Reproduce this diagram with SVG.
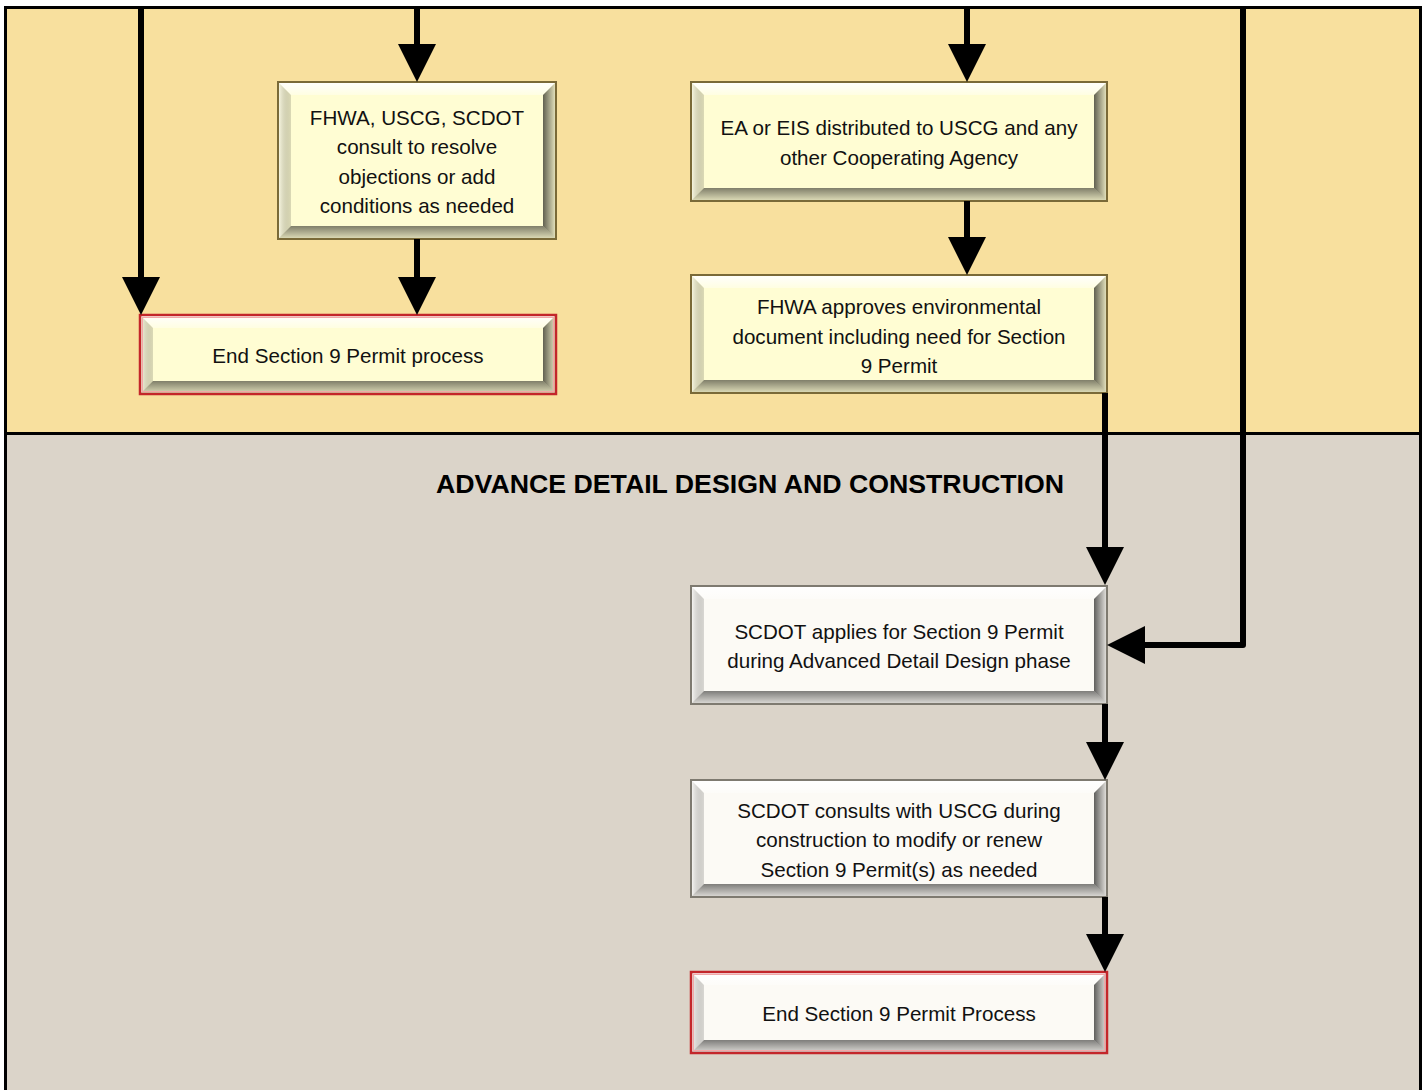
<svg xmlns="http://www.w3.org/2000/svg" width="1425" height="1090" viewBox="0 0 1425 1090">
<style>
  .lbl { font-family: "Liberation Sans", Arial, sans-serif; font-size: 20.6px; fill: #111; text-anchor: middle; }
  .title { font-family: "Liberation Sans", Arial, sans-serif; font-size: 25px; font-weight: bold; fill: #000; text-anchor: middle; }
  .faceY { fill: #FFFDD3; }
  .faceG { fill: #FCFAF5; }
  .bt { fill: url(#gTop); }
  .bl { fill: url(#gLeft); }
  .br { fill: url(#gRight); }
  .bb { fill: url(#gBottom); }
  .edgeY { fill: none; stroke: #7A6A38; stroke-width: 2; }
  .edgeG { fill: none; stroke: #7E7A70; stroke-width: 2; }
  .edgeR { fill: none; stroke: #C3262A; stroke-width: 2.5; }
  .edgeR2 { fill: none; stroke: #F2A8A8; stroke-width: 1; }
  .conn { fill: none; stroke: #000; stroke-width: 6; stroke-linejoin: round; marker-end: url(#arr); }
</style>
<defs>
  <linearGradient id="gTop" x1="0" y1="0" x2="0" y2="1">
    <stop offset="0" stop-color="#fff" stop-opacity="0.95"/>
    <stop offset="1" stop-color="#fff" stop-opacity="0.35"/>
  </linearGradient>
  <linearGradient id="gLeft" x1="0" y1="0" x2="1" y2="0">
    <stop offset="0" stop-color="#fff" stop-opacity="0.5"/>
    <stop offset="1" stop-color="#000" stop-opacity="0.14"/>
  </linearGradient>
  <linearGradient id="gRight" x1="0" y1="0" x2="1" y2="0">
    <stop offset="0" stop-color="#000" stop-opacity="0.62"/>
    <stop offset="1" stop-color="#000" stop-opacity="0.08"/>
  </linearGradient>
  <linearGradient id="gBottom" x1="0" y1="0" x2="0" y2="1">
    <stop offset="0" stop-color="#000" stop-opacity="0.5"/>
    <stop offset="1" stop-color="#000" stop-opacity="0.12"/>
  </linearGradient>
  <marker id="arr" viewBox="0 0 38 38" refX="0" refY="19" markerWidth="38" markerHeight="38" markerUnits="userSpaceOnUse" orient="auto">
    <path d="M0,0 L38,19 L0,38 Z" fill="#000"/>
  </marker>
</defs>

<!-- swimlane backgrounds -->
<g id="lanes">
  <rect x="5.5" y="7.5" width="1415" height="426" fill="#F8E09E"/>
  <rect x="5.5" y="433.5" width="1415" height="660" fill="#DBD4C9"/>
  <path d="M5.5,1095 V7.5 H1420.5 V1095" fill="none" stroke="#000" stroke-width="3"/>
  <line x1="5.5" y1="433.5" x2="1420.5" y2="433.5" stroke="#000" stroke-width="3"/>
  <text class="title" x="750" y="493" textLength="628" lengthAdjust="spacingAndGlyphs">ADVANCE DETAIL DESIGN AND CONSTRUCTION</text>
</g>

<g id="node-consult">
  <rect class="faceY" x="278" y="82" width="278" height="157"/>
  <polygon class="bt" points="278,82 556,82 543,95 291,95"/>
  <polygon class="bl" points="278,82 291,95 291,226 278,239"/>
  <polygon class="br" points="543,95 556,82 556,239 543,226"/>
  <polygon class="bb" points="291,226 543,226 556,239 278,239"/>
  <rect class="edgeY" x="278" y="82" width="278" height="157"/>
  <text class="lbl" x="417" y="125">FHWA, USCG, SCDOT</text>
  <text class="lbl" x="417" y="154">consult to resolve</text>
  <text class="lbl" x="417" y="184">objections or add</text>
  <text class="lbl" x="417" y="213">conditions as needed</text>
</g>

<g id="node-end1">
  <rect class="faceY" x="140" y="315" width="416" height="79"/>
  <polygon class="bt" points="140,315 556,315 543,328 153,328"/>
  <polygon class="bl" points="140,315 153,328 153,381 140,394"/>
  <polygon class="br" points="543,328 556,315 556,394 543,381"/>
  <polygon class="bb" points="153,381 543,381 556,394 140,394"/>
  <rect class="edgeR2" x="142.5" y="317.5" width="411" height="74"/>
  <rect class="edgeR" x="140" y="315" width="416" height="79"/>
  <text class="lbl" x="348" y="363">End Section 9 Permit process</text>
</g>

<g id="node-distributed">
  <rect class="faceY" x="691" y="82" width="416" height="119"/>
  <polygon class="bt" points="691,82 1107,82 1094,95 704,95"/>
  <polygon class="bl" points="691,82 704,95 704,188 691,201"/>
  <polygon class="br" points="1094,95 1107,82 1107,201 1094,188"/>
  <polygon class="bb" points="704,188 1094,188 1107,201 691,201"/>
  <rect class="edgeY" x="691" y="82" width="416" height="119"/>
  <text class="lbl" x="899" y="135">EA or EIS distributed to USCG and any</text>
  <text class="lbl" x="899" y="165">other Cooperating Agency</text>
</g>

<g id="node-approves">
  <rect class="faceY" x="691" y="275" width="416" height="118"/>
  <polygon class="bt" points="691,275 1107,275 1094,288 704,288"/>
  <polygon class="bl" points="691,275 704,288 704,380 691,393"/>
  <polygon class="br" points="1094,288 1107,275 1107,393 1094,380"/>
  <polygon class="bb" points="704,380 1094,380 1107,393 691,393"/>
  <rect class="edgeY" x="691" y="275" width="416" height="118"/>
  <text class="lbl" x="899" y="314">FHWA approves environmental</text>
  <text class="lbl" x="899" y="344">document including need for Section</text>
  <text class="lbl" x="899" y="373">9 Permit</text>
</g>

<g id="node-applies">
  <rect class="faceG" x="691" y="586" width="416" height="118"/>
  <polygon class="bt" points="691,586 1107,586 1094,599 704,599"/>
  <polygon class="bl" points="691,586 704,599 704,691 691,704"/>
  <polygon class="br" points="1094,599 1107,586 1107,704 1094,691"/>
  <polygon class="bb" points="704,691 1094,691 1107,704 691,704"/>
  <rect class="edgeG" x="691" y="586" width="416" height="118"/>
  <text class="lbl" x="899" y="639">SCDOT applies for Section 9 Permit</text>
  <text class="lbl" x="899" y="668">during Advanced Detail Design phase</text>
</g>

<g id="node-consults">
  <rect class="faceG" x="691" y="780" width="416" height="117"/>
  <polygon class="bt" points="691,780 1107,780 1094,793 704,793"/>
  <polygon class="bl" points="691,780 704,793 704,884 691,897"/>
  <polygon class="br" points="1094,793 1107,780 1107,897 1094,884"/>
  <polygon class="bb" points="704,884 1094,884 1107,897 691,897"/>
  <rect class="edgeG" x="691" y="780" width="416" height="117"/>
  <text class="lbl" x="899" y="818">SCDOT consults with USCG during</text>
  <text class="lbl" x="899" y="847">construction to modify or renew</text>
  <text class="lbl" x="899" y="877">Section 9 Permit(s) as needed</text>
</g>

<g id="node-end2">
  <rect class="faceG" x="691" y="972" width="416" height="81"/>
  <polygon class="bt" points="691,972 1107,972 1094,985 704,985"/>
  <polygon class="bl" points="691,972 704,985 704,1040 691,1053"/>
  <polygon class="br" points="1094,985 1107,972 1107,1053 1094,1040"/>
  <polygon class="bb" points="704,1040 1094,1040 1107,1053 691,1053"/>
  <rect class="edgeR2" x="693.5" y="974.5" width="411" height="76"/>
  <rect class="edgeR" x="691" y="972" width="416" height="81"/>
  <text class="lbl" x="899" y="1021">End Section 9 Permit Process</text>
</g>

<g id="connectors">
  <path class="conn" d="M141,7 V277"/>
  <path class="conn" d="M417,7 V44"/>
  <path class="conn" d="M417,239 V277"/>
  <path class="conn" d="M967,7 V44"/>
  <path class="conn" d="M967,201 V237"/>
  <path class="conn" d="M1105,393 V547"/>
  <path class="conn" d="M1243,7 V645 H1145"/>
  <path class="conn" d="M1105,704 V742"/>
  <path class="conn" d="M1105,897 V934"/>
</g>
</svg>
